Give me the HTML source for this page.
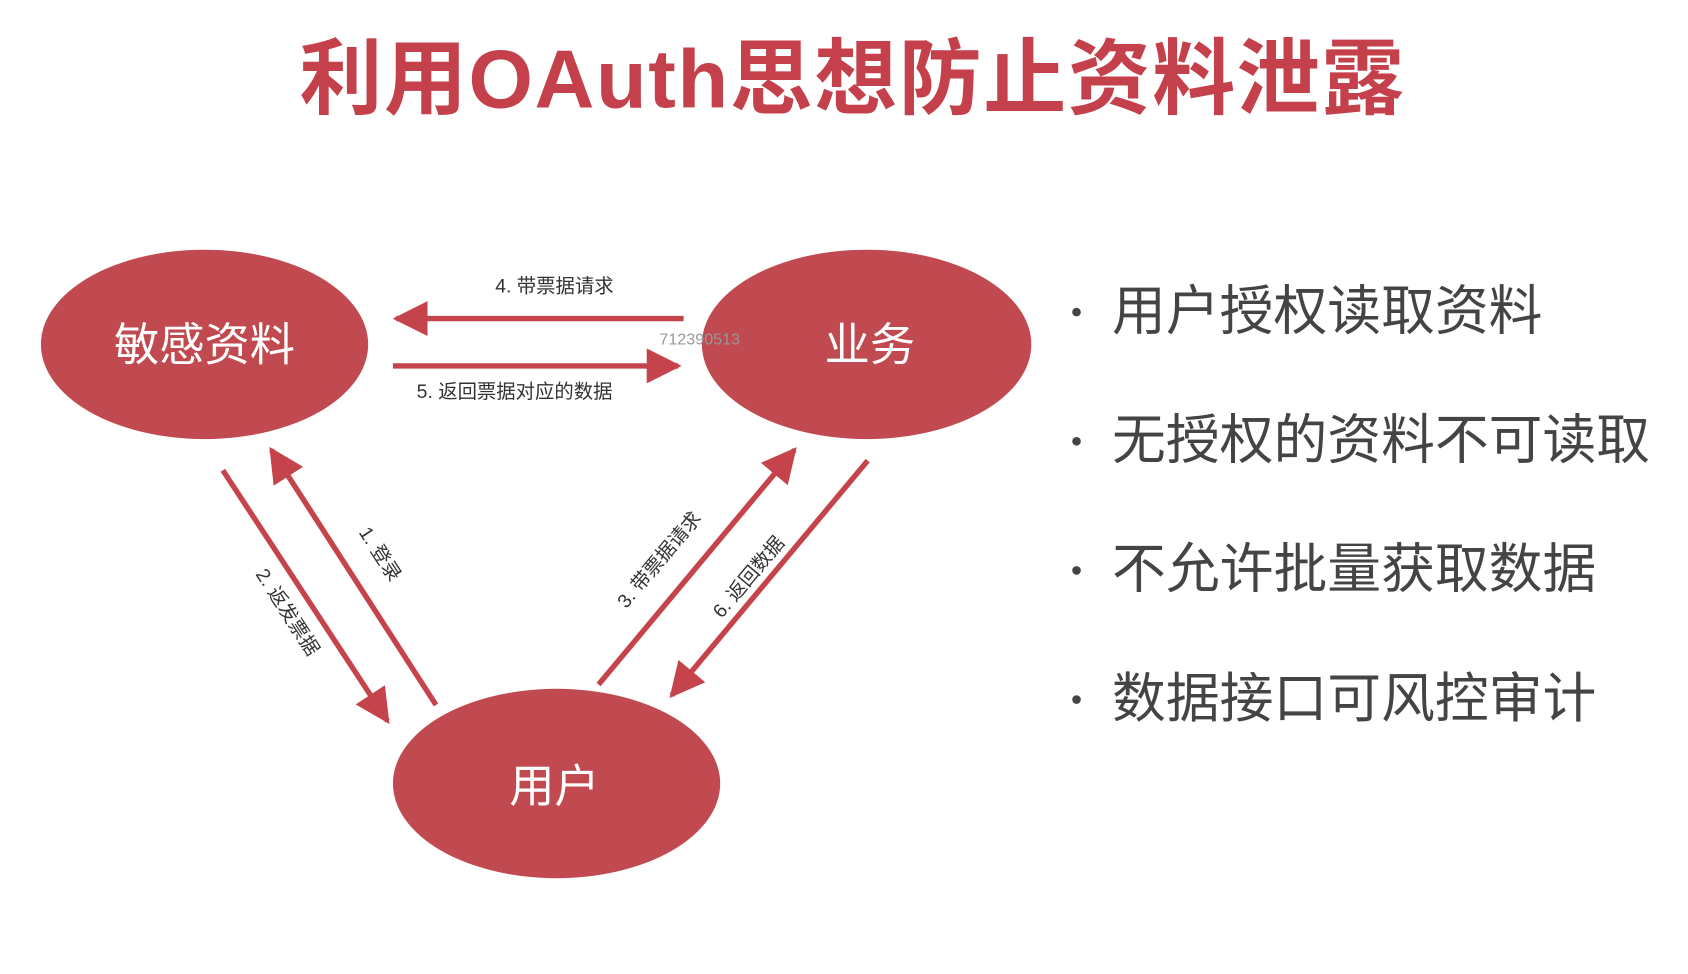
<!DOCTYPE html>
<html><head><meta charset="utf-8"><style>
html,body{margin:0;padding:0;background:#fff;width:1688px;height:974px;overflow:hidden}
svg{display:block}
text{font-family:"Liberation Sans","Noto Sans CJK SC",sans-serif}
</style></head><body>
<svg width="1688" height="974" viewBox="0 0 1568 905" preserveAspectRatio="none">
<defs>
<marker id="a" viewBox="0 0 10 10" refX="9" refY="5" markerWidth="6.5" markerHeight="6.5" orient="auto" markerUnits="strokeWidth">
<path d="M0,0 L10,5 L0,10 z" fill="#c5434a"/></marker>
</defs>
<text x="792" y="100" text-anchor="middle" font-size="77" font-weight="bold" fill="#c4404a" letter-spacing="1.5">利用OAuth思想防止资料泄露</text>
<g fill="#c04a4f">
<ellipse cx="190" cy="320" rx="152" ry="88"/>
<ellipse cx="805" cy="320" rx="153" ry="88"/>
<ellipse cx="517" cy="728" rx="152" ry="88"/>
</g>
<g fill="#fff" font-size="42" text-anchor="middle">
<text x="190" y="335">敏感资料</text>
<text x="808" y="335">业务</text>
<text x="515" y="745">用户</text>
</g>
<g stroke="#c5434a" stroke-width="5" fill="none" marker-end="url(#a)">
<line x1="635" y1="296" x2="368" y2="296"/>
<line x1="365" y1="340" x2="630" y2="340"/>
<line x1="405" y1="655" x2="252" y2="418"/>
<line x1="207" y1="437" x2="360" y2="670"/>
<line x1="556" y1="636" x2="738" y2="418"/>
<line x1="806" y1="428" x2="624" y2="646"/>
</g>
<g fill="#333" font-size="18">
<text x="515" y="272" text-anchor="middle">4. 带票据请求</text>
<text x="478" y="370" text-anchor="middle">5. 返回票据对应的数据</text>
<text transform="translate(348,518) rotate(57)" text-anchor="middle">1. 登录</text>
<text transform="translate(262,572) rotate(57)" text-anchor="middle">2. 返发票据</text>
<text transform="translate(617,524) rotate(-50)" text-anchor="middle">3. 带票据请求</text>
<text transform="translate(700,540) rotate(-50)" text-anchor="middle">6. 返回数据</text>
</g>
<text x="650" y="320" text-anchor="middle" font-size="15" fill="#999" font-family="Liberation Serif,serif">712390513</text>
<g fill="#444">
<circle cx="1000" cy="290" r="4"/><circle cx="1000" cy="410" r="4"/><circle cx="1000" cy="530" r="4"/><circle cx="1000" cy="650" r="4"/>
</g>
<g fill="#444" font-size="50">
<text x="1033" y="306">用户授权读取资料</text>
<text x="1033" y="426">无授权的资料不可读取</text>
<text x="1033" y="546">不允许批量获取数据</text>
<text x="1033" y="666">数据接口可风控审计</text>
</g>
</svg>
</body></html>
